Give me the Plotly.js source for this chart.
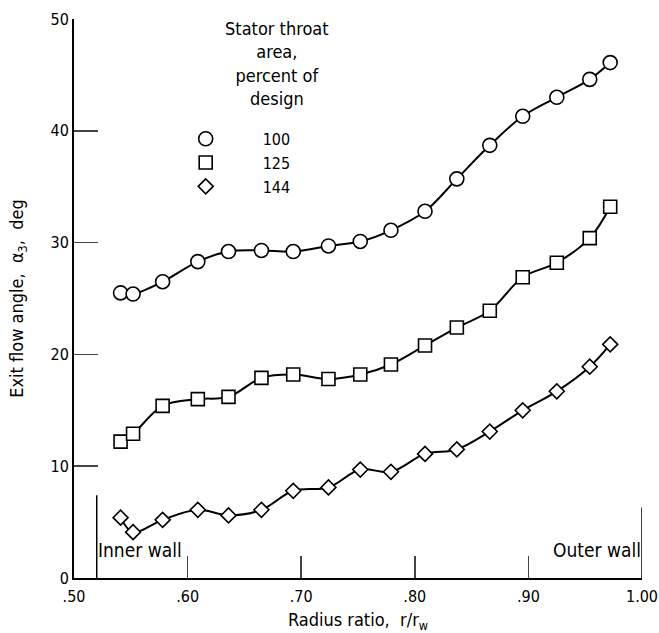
<!DOCTYPE html>
<html><head><meta charset="utf-8">
<script src="https://cdn.plot.ly/plotly-3.0.1.min.js"></script>
<style>html,body{margin:0;padding:0;background:#fff}</style>
</head><body>
<div id="chart" style="width:659px;height:633px"></div>
<script>
// Radius ratio stations (shared by all three series)
const radius = [0.541,0.552,0.578,0.609,0.636,0.665,0.693,0.724,0.752,0.779,0.809,0.837,0.866,0.895,0.925,0.954,0.972];
// Exit flow angle, deg
const area100 = [25.5,25.4,26.5,28.3,29.2,29.3,29.2,29.7,30.1,31.1,32.8,35.7,38.7,41.3,43.0,44.6,46.1];
const area125 = [12.2,12.9,15.4,16.0,16.2,17.9,18.2,17.8,18.2,19.1,20.8,22.4,23.9,26.9,28.2,30.4,33.2];
const area144 = [5.4,4.1,5.2,6.1,5.6,6.1,7.8,8.1,9.7,9.5,11.1,11.5,13.1,15.0,16.7,18.9,20.9];
const seriesNames = ['100','125','144'];
const seriesSymbols = ['circle','square','diamond'];
const xTickVals = [0.5,0.6,0.7,0.8,0.9,1.0];
const xTickText = ['.50','.60','.70','.80','.90','1.00'];
const yTickVals = [0,10,20,30,40,50];
const yTickText = ['0','10','20','30','40','50'];
const wallPos = [0.52, 1.0];
const wallLabels = ['Inner wall','Outer wall'];
const wallHeights = [7.4, 6.3];

const FONT = '"DejaVu Sans Condensed","Liberation Sans Narrow","DejaVu Sans",sans-serif';
const series = [area100, area125, area144];
const sizes = [14, 13, 11.5];
const traces = [];
series.forEach((ys, i) => {
  traces.push({x: radius, y: ys, mode: 'lines', line: {shape: 'spline', smoothing: 1, color: '#000', width: 2}, showlegend: false, hoverinfo: 'skip'});
});
series.forEach((ys, i) => {
  traces.push({x: radius, y: ys, mode: 'markers', name: seriesNames[i],
    marker: {symbol: seriesSymbols[i], size: sizes[i], color: '#fff', line: {color: '#000', width: 1.6}}});
});
wallPos.forEach((w, i) => {
  traces.push({x: [w, w], y: [0, wallHeights[i]], mode: 'lines', line: {color: '#000', width: 1.5}, showlegend: false, hoverinfo: 'skip'});
});

const layout = {
  width: 659, height: 633,
  margin: {l: 74, r: 17, t: 19, b: 55},
  paper_bgcolor: '#fff', plot_bgcolor: '#fff',
  font: {family: FONT, size: 16, color: '#000'},
  showlegend: true,
  legend: {x: 0.1315, y: 0.816, xanchor: 'left', yanchor: 'top', bgcolor: 'rgba(0,0,0,0)', font: {size: 16}, itemwidth: 104, tracegroupgap: 0},
  xaxis: {range: [0.5, 1.0], tickvals: xTickVals, ticktext: xTickText, ticks: 'inside', ticklen: 22, tickwidth: 1.5,
    showline: true, linewidth: 2, linecolor: '#000', showgrid: false, zeroline: false, mirror: false,
    ticklabelstandoff: 3,
    title: {text: 'Radius ratio,  r/r<sub>w</sub>', font: {size: 18}, standoff: 8}},
  yaxis: {range: [0, 50], tickvals: yTickVals, ticktext: yTickText, ticks: 'inside', ticklen: 24, tickwidth: 1.5,
    showline: true, linewidth: 2, linecolor: '#000', showgrid: false, zeroline: false,
    title: {text: 'Exit flow angle,  α<sub>3</sub>,  deg', font: {size: 18}, standoff: 22}},
  annotations: [
    {xref: 'paper', yref: 'paper', x: 0.358, y: 1.005, xanchor: 'center', yanchor: 'top', showarrow: false,
     text: 'Stator throat<br>area,<br>percent of<br>design', align: 'center', font: {size: 18}},
    {xref: 'x', yref: 'y', x: wallPos[0], y: 2.5, xanchor: 'left', yanchor: 'middle', showarrow: false, text: wallLabels[0], font: {size: 19}, xshift: -1},
    {xref: 'x', yref: 'y', x: wallPos[1], y: 2.5, xanchor: 'right', yanchor: 'middle', showarrow: false, text: wallLabels[1], font: {size: 19}, xshift: 1}
  ]
};
Plotly.newPlot('chart', traces, layout, {displayModeBar: false, staticPlot: true});
</script>
</body></html>
